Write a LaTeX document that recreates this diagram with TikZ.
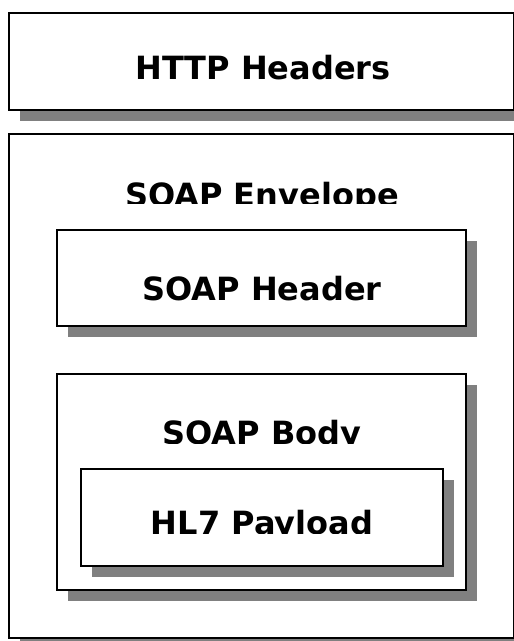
\documentclass[tikz,border=0pt]{standalone}
\usepackage{fontspec}
\setmainfont{DejaVu Sans}
\usepackage{tikz}
\usetikzlibrary{shadows}

\begin{document}
\begin{tikzpicture}[x=1pt,y=-1pt,
	layer/.style={draw,line width=2pt,fill=white,anchor=north west,inner sep=0pt,
		drop shadow={shadow xshift=11pt,shadow yshift=-11pt,fill=gray,opacity=1}},
	caption/.style={anchor=base,inner sep=0pt,font=\bfseries\fontsize{32}{38}\selectfont}]
	\useasboundingbox (0,0) rectangle (514,641);
	%
	%  BOXES
	%
	\node[layer,minimum width=505pt,minimum height=97pt] (http) at (8,12) {};
	\node[layer,minimum width=505pt,minimum height=504pt] (env) at (8,133) {};
	\node[layer,minimum width=409pt,minimum height=96pt] (shead) at (56,229) {};
	\node[layer,minimum width=409pt,minimum height=216pt] (sbody) at (56,373) {};
	\node[layer,minimum width=362pt,minimum height=97pt] (hl7) at (80,468) {};
	%
	%  LABELS
	%
	\node[caption] (httptext) at (263,79) {HTTP Headers};
	\node[caption] (sheadtext) at (262,300) {SOAP Header};
	\begin{scope}
		\clip (8,133) rectangle (513,203);
		\node[caption] (envtext) at (262,206) {SOAP Envelope};
	\end{scope}
	\begin{scope}
		\clip (56,373) rectangle (465,443);
		\node[caption] (sbodytext) at (262,444) {SOAP Body};
	\end{scope}
	\begin{scope}
		\clip (80,468) rectangle (442,533);
		\node[caption] (hl7text) at (262,534) {HL7 Payload};
	\end{scope}
\end{tikzpicture}
\end{document}
